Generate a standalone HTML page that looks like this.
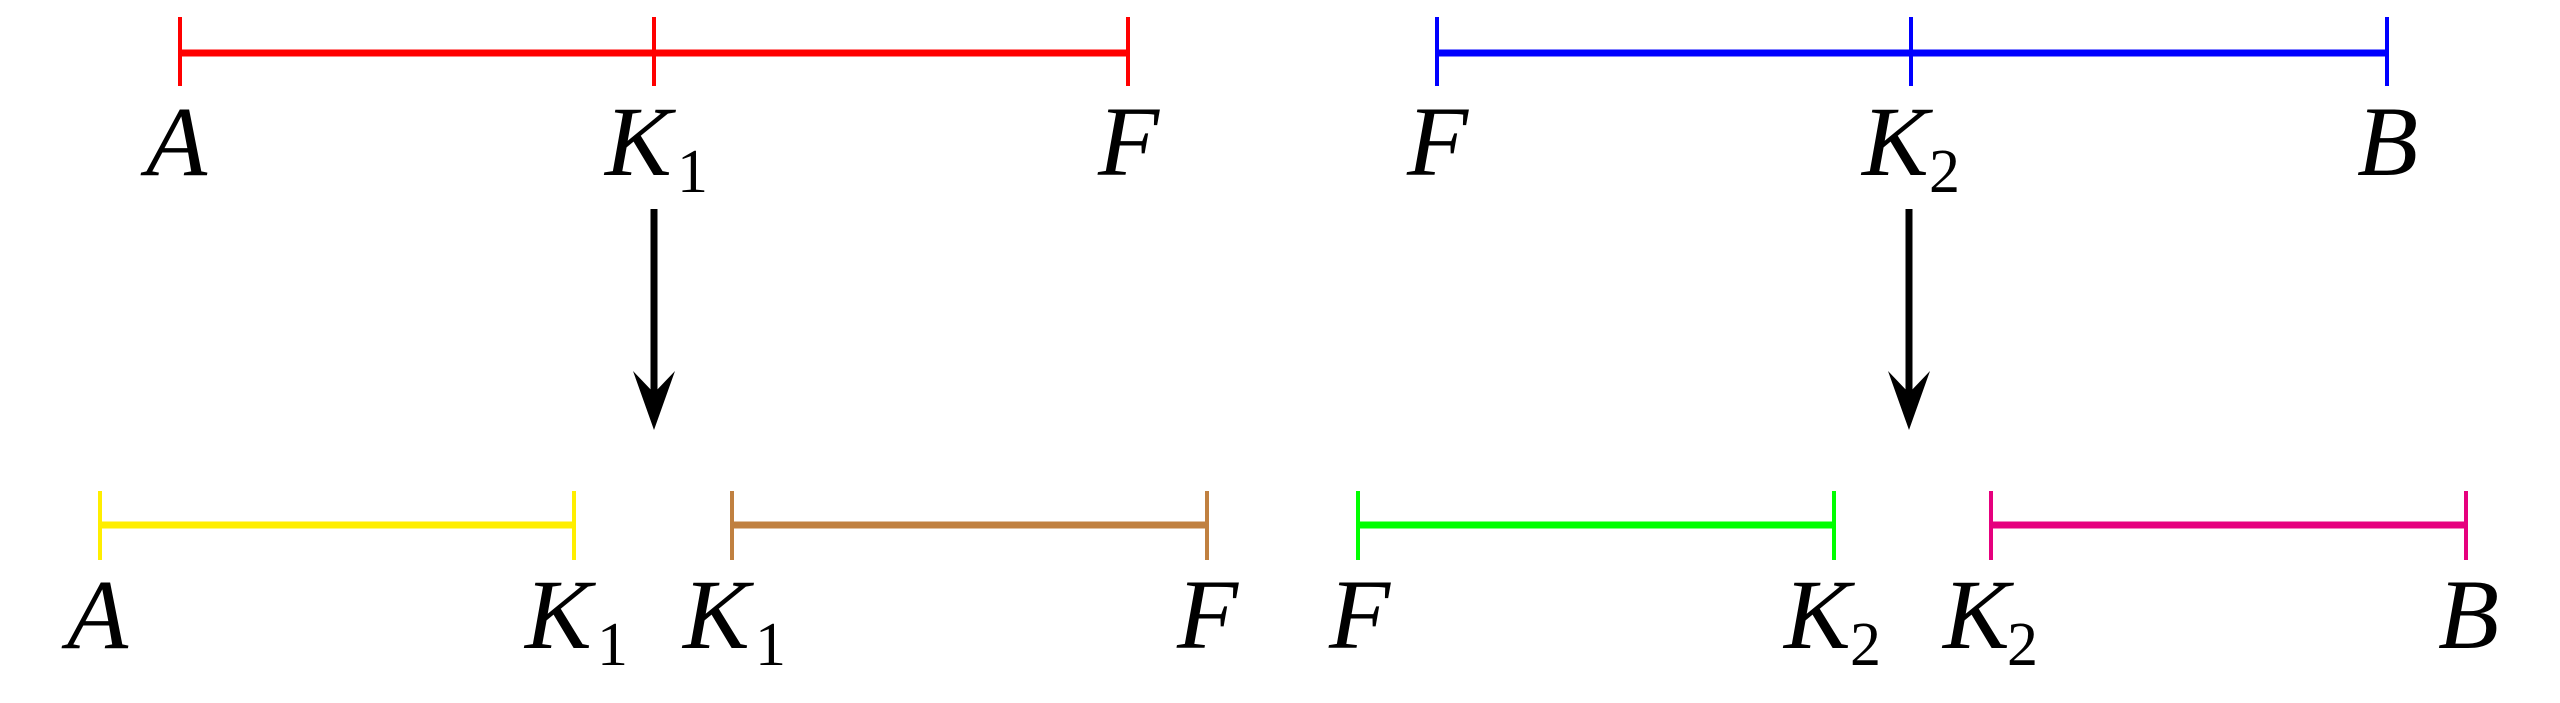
<!DOCTYPE html>
<html><head><meta charset="utf-8"><style>
html,body{margin:0;padding:0;background:#fff;}
svg{display:block;}
</style></head><body>
<svg width="2560" height="703" viewBox="0 0 2560 703" xmlns="http://www.w3.org/2000/svg">
<g stroke="#ff0000">
<line x1="180" y1="53" x2="1128" y2="53" stroke-width="7"/>
<line x1="180" y1="17" x2="180" y2="86" stroke-width="4"/>
<line x1="654" y1="17" x2="654" y2="86" stroke-width="4"/>
<line x1="1128" y1="17" x2="1128" y2="86" stroke-width="4"/>
</g>
<g stroke="#0000ff">
<line x1="1437" y1="53" x2="2387" y2="53" stroke-width="7"/>
<line x1="1437" y1="17" x2="1437" y2="86" stroke-width="4"/>
<line x1="1911" y1="17" x2="1911" y2="86" stroke-width="4"/>
<line x1="2387" y1="17" x2="2387" y2="86" stroke-width="4"/>
</g>
<g stroke="#ffee00">
<line x1="100" y1="525" x2="574" y2="525" stroke-width="7"/>
<line x1="100" y1="491" x2="100" y2="560" stroke-width="4"/>
<line x1="574" y1="491" x2="574" y2="560" stroke-width="4"/>
</g>
<g stroke="#c08040">
<line x1="732" y1="525" x2="1207" y2="525" stroke-width="7"/>
<line x1="732" y1="491" x2="732" y2="560" stroke-width="4"/>
<line x1="1207" y1="491" x2="1207" y2="560" stroke-width="4"/>
</g>
<g stroke="#00ff00">
<line x1="1358" y1="525" x2="1834" y2="525" stroke-width="7"/>
<line x1="1358" y1="491" x2="1358" y2="560" stroke-width="4"/>
<line x1="1834" y1="491" x2="1834" y2="560" stroke-width="4"/>
</g>
<g stroke="#e6007e">
<line x1="1991" y1="525" x2="2466" y2="525" stroke-width="7"/>
<line x1="1991" y1="491" x2="1991" y2="560" stroke-width="4"/>
<line x1="2466" y1="491" x2="2466" y2="560" stroke-width="4"/>
</g>
<line x1="654" y1="209" x2="654" y2="395" stroke="#000" stroke-width="7"/>
<polygon points="633,371 654,430 675,371 654,393" fill="#000"/>
<line x1="1909" y1="209" x2="1909" y2="395" stroke="#000" stroke-width="7"/>
<polygon points="1888,371 1909,430 1930,371 1909,393" fill="#000"/>
<g font-family="Liberation Serif, Times New Roman, Times, Nimbus Roman, FreeSerif, serif" font-style="italic" font-size="100" fill="#000">
<text x="146" y="175">A</text>
<text x="605" y="175">K</text>
<text x="1098" y="175">F</text>
<text x="1407" y="175">F</text>
<text x="1862" y="175">K</text>
<text x="2357" y="175">B</text>
<text x="67" y="648">A</text>
<text x="525" y="648">K</text>
<text x="683" y="648">K</text>
<text x="1177" y="648">F</text>
<text x="1329" y="648">F</text>
<text x="1784" y="648">K</text>
<text x="1943" y="648">K</text>
<text x="2438" y="648">B</text>
</g>
<g font-family="Liberation Serif, Times New Roman, Times, Nimbus Roman, FreeSerif, serif" font-size="62" fill="#000">
<text x="677" y="192">1</text>
<text x="1929" y="192">2</text>
<text x="597" y="665">1</text>
<text x="755" y="665">1</text>
<text x="1850" y="665">2</text>
<text x="2007" y="665">2</text>
</g>
</svg>
</body></html>
